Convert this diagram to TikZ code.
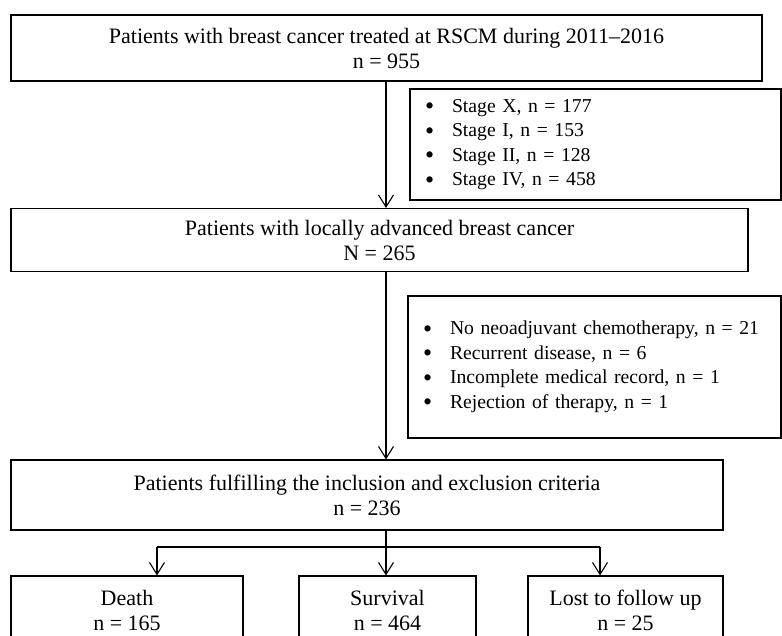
\documentclass[tikz,border=0pt]{standalone}
\usepackage{fontspec}
\setmainfont{Liberation Serif}
\usetikzlibrary{arrows.meta,positioning,calc}
\newcommand{\bul}{\makebox[24pt][l]{\hspace{-3pt}\raisebox{-2.5pt}{\fontsize{26}{0}\selectfont\textbullet}}}

\begin{document}
\begin{tikzpicture}[
  x=1pt, y=-1pt, >={Straight Barb[length=12pt,width=15pt]}, line width=1.1pt,
  box/.style={draw, align=center, inner sep=0pt, font=\fontsize{22}{25}\selectfont},
  lst/.style={draw, align=left, inner xsep=18pt, inner ysep=0pt, font=\fontsize{19.7}{24.5}\selectfont}]
\path[use as bounding box, clip] (0,0) rectangle (782,635);
\node[box, minimum width=751pt, minimum height=66pt] (total) at (386.5,48) {Patients with breast cancer treated at RSCM during 2011--2016\\ n = 955};
\node[lst, text width=335pt, minimum height=111pt] (stage) at (595.5,144.5) {\bul Stage X, n = 177\\ \bul Stage I, n = 153\\ \bul Stage II, n = 128\\ \bul Stage IV, n = 458};
\node[box, minimum width=737pt, minimum height=63pt] (labc) at (379.5,240) {Patients with locally advanced breast cancer\\ N = 265};
\node[lst, text width=337pt, minimum height=142pt] (excl) at (594.5,367) {\bul No neoadjuvant chemotherapy, n = 21\\ \bul Recurrent disease, n = 6\\ \bul Incomplete medical record, n = 1\\ \bul Rejection of therapy, n = 1};
\node[box, minimum width=712pt, minimum height=70pt] (incl) at (367,495) {Patients fulfilling the inclusion and exclusion criteria\\ n = 236};
\node[box, minimum width=232pt, minimum height=69pt] (death) at (127,610.5) {Death\\ n = 165};
\node[box, minimum width=177pt, minimum height=69pt] (surv) at (387.5,610.5) {Survival\\ n = 464};
\node[box, minimum width=195pt, minimum height=69pt] (lost) at (625.5,610.5) {Lost to follow up\\ n = 25};
% spine and fork
\coordinate (spine) at (386,0);
\coordinate (forkL) at (157,547);
\coordinate (forkM) at (386,547);
\coordinate (forkR) at (600,547);
\draw[->] (spine |- total.south) -- (spine |- labc.north);
\draw[->] (spine |- labc.south) -- (spine |- incl.north);
\draw (spine |- incl.south) -- (forkM);
\draw (forkL) -- (forkR);
\draw[->] (forkL) -- (forkL |- death.north);
\draw[->] (forkM) -- (forkM |- surv.north);
\draw[->] (forkR) -- (forkR |- lost.north);
\end{tikzpicture}
\end{document}
